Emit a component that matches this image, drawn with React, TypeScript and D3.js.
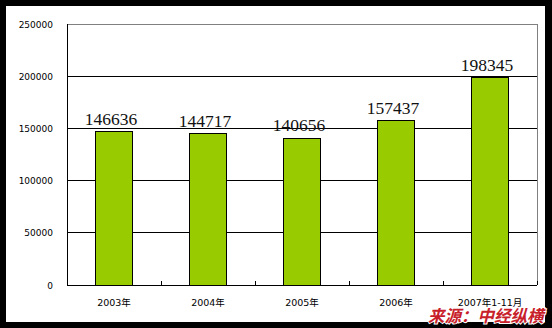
import React from "react";
import * as d3 from "d3";

const categories = ["2003年", "2004年", "2005年", "2006年", "2007年1-11月"];
const values = [146636, 144717, 140656, 157437, 198345];
const yTicks = [0, 50000, 100000, 150000, 200000, 250000];
const sourceText = "来源：中经纵横";

const W = 552;
const H = 328;
const M = { left: 67, right: 537, top: 24, bottom: 285 };

export default function App() {
  const x = d3.scaleBand<string>().domain(categories).range([M.left, M.right]).padding(0);
  const y = d3.scaleLinear().domain([0, 250000]).range([M.bottom, M.top]);
  const bw = x.bandwidth() * 0.4;
  const boundaries = categories.map((c) => (x(c) as number) + x.bandwidth());

  return (
    <svg
      width={W}
      height={H}
      style={{ position: "absolute", left: 0, top: 0, display: "block" }}
    >
      <rect x={0} y={0} width={W} height={H} fill="#000" />
      <rect x={6} y={6} width={539} height={316} fill="#fff" />
      {yTicks.map((t) => (
        <line
          key={t}
          x1={M.left}
          x2={M.right}
          y1={y(t)}
          y2={y(t)}
          stroke={t === 250000 ? "#808080" : "#000"}
          strokeWidth={1}
          shapeRendering="crispEdges"
        />
      ))}
      <line x1={M.right} x2={M.right} y1={M.top} y2={M.bottom} stroke="#808080" shapeRendering="crispEdges" />
      {categories.map((c, i) => {
        const cx = (x(c) as number) + x.bandwidth() / 2;
        return (
          <rect
            key={c}
            x={cx - bw / 2}
            y={y(values[i])}
            width={bw}
            height={y(0) - y(values[i])}
            fill="#99CC00"
            stroke="#000"
            strokeWidth={1}
            shapeRendering="crispEdges"
          />
        );
      })}
      <line x1={M.left} x2={M.left} y1={M.top} y2={M.bottom} stroke="#000" shapeRendering="crispEdges" />
      <line x1={M.left} x2={M.right} y1={M.bottom} y2={M.bottom} stroke="#000" shapeRendering="crispEdges" />
      {boundaries.map((bx, i) => (
        <line key={i} x1={bx} x2={bx} y1={M.bottom} y2={M.bottom - 4} stroke="#000" shapeRendering="crispEdges" />
      ))}
      {yTicks.map((t) => (
        <text
          key={t}
          x={53}
          y={y(t) + 3.5}
          textAnchor="end"
          fontFamily="DejaVu Sans, Verdana, sans-serif"
          fontSize={9}
          fill="#000"
        >
          {t}
        </text>
      ))}
      {categories.map((c) => (
        <text
          key={c}
          x={(x(c) as number) + x.bandwidth() / 2}
          y={306}
          textAnchor="middle"
          fontFamily="DejaVu Sans, 'Noto Sans CJK SC', sans-serif"
          fontSize={9.5}
          fill="#000"
        >
          {c}
        </text>
      ))}
      {categories.map((c, i) => (
        <text
          key={c}
          x={(x(c) as number) + x.bandwidth() / 2 - 3}
          y={y(values[i]) - 7}
          textAnchor="middle"
          fontFamily="Liberation Serif, 'Times New Roman', serif"
          fontSize={17.5}
          fill="#111"
        >
          {values[i]}
        </text>
      ))}
      <text
        x={428}
        y={322}
        fontFamily="'Noto Sans CJK SC', sans-serif"
        fontWeight="bold"
        fontStyle="italic"
        fontSize={16.5}
        fill="#C8202A"
        stroke="#fff"
        strokeWidth={2}
        style={{ paintOrder: "stroke" }}
      >
        {sourceText}
      </text>
    </svg>
  );
}
